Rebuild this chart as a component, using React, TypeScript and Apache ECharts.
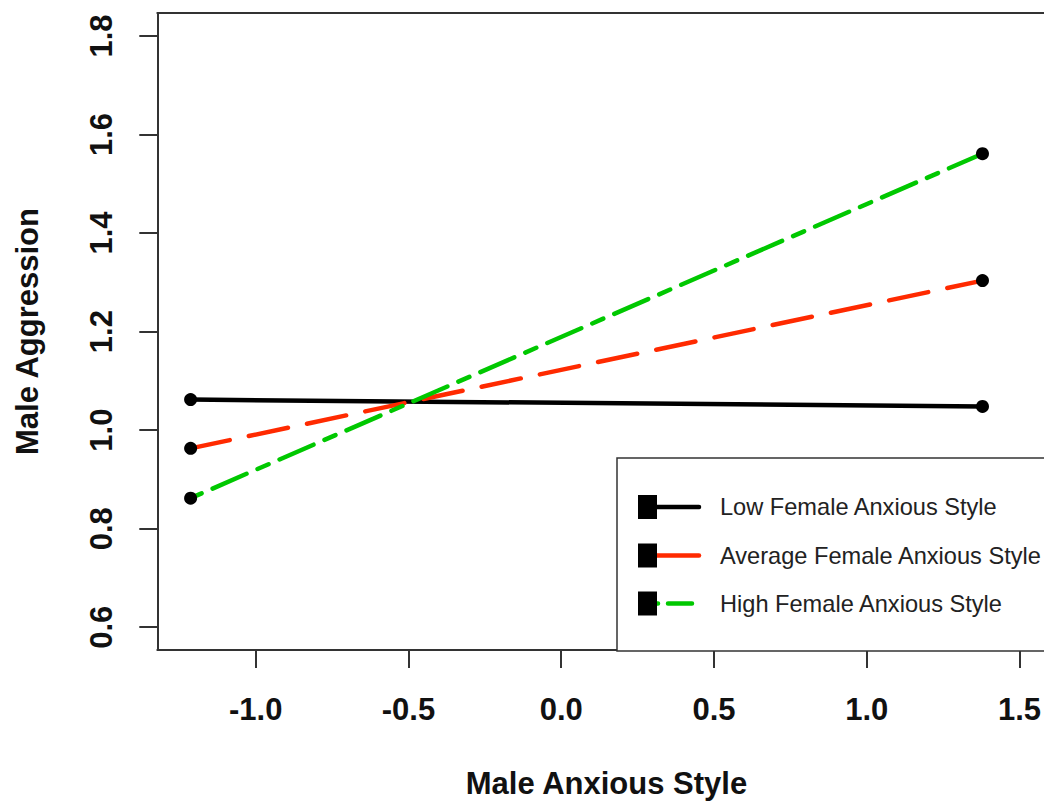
import React, { useEffect, useRef } from "react";
import * as echarts from "echarts";

const seriesNames = [
  "Low Female Anxious Style",
  "Average Female Anxious Style",
  "High Female Anxious Style",
];
const xValues = [-1.213, 1.379];
const lowValues = [1.062, 1.048];
const averageValues = [0.963, 1.3035];
const highValues = [0.862, 1.561];
const xTicks = [-1.0, -0.5, 0.0, 0.5, 1.0, 1.5];
const yTicks = [0.6, 0.8, 1.0, 1.2, 1.4, 1.6, 1.8];

const colors = ["#000000", "#ff2a00", "#00c800"];
const dashes: any[] = ["solid", [40, 19.5], [12, 12, 37, 12]];
const FONT = "'Liberation Sans', Arial, Helvetica, sans-serif";

export default function App() {
  const ref = useRef<HTMLDivElement>(null);
  useEffect(() => {
    if (!ref.current) return;
    const chart = echarts.init(ref.current, null, { renderer: "svg" });
    const allValues = [lowValues, averageValues, highValues];
    const series = allValues.map((vals, i) => ({
      name: seriesNames[i],
      type: "line",
      data: xValues.map((x, j) => [x, vals[j]]),
      symbol: "circle",
      symbolSize: 13,
      showSymbol: true,
      itemStyle: { color: "#000" },
      lineStyle: { color: colors[i], width: 4.5, type: dashes[i], cap: "round" },
      z: 3,
      silent: true,
    }));

    const legendX = 617;
    const legendY = 458;
    const rowY = [507, 555.5, 603.5];
    const legendGraphics: any[] = [
      {
        type: "rect",
        shape: { x: legendX, y: legendY, width: 600, height: 651 - legendY },
        style: { fill: "#fff", stroke: "#333", lineWidth: 1.5 },
        z: 10,
      },
    ];
    seriesNames.forEach((name, i) => {
      legendGraphics.push({
        type: "line",
        shape: { x1: 652, y1: rowY[i], x2: 699, y2: rowY[i] },
        style: {
          stroke: colors[i],
          lineWidth: 4.5,
          lineCap: "round",
          lineDash: i === 2 ? [6, 10, 24, 10] : null,
        },
        z: 11,
      });
      legendGraphics.push({
        type: "rect",
        shape: { x: 638, y: rowY[i] - 12, width: 19, height: 24 },
        style: { fill: "#000" },
        z: 12,
      });
      legendGraphics.push({
        type: "text",
        x: 720,
        y: rowY[i],
        style: {
          text: name,
          fill: "#222",
          font: `23.6px ${FONT}`,
          textVerticalAlign: "middle",
          textAlign: "left",
        },
        z: 12,
      });
    });

    const axisLineStyle = { color: "#333", width: 2 };

    chart.setOption({
      animation: false,
      backgroundColor: "#fff",
      grid: {
        left: 157.3,
        top: 13,
        width: 886.7,
        height: 638,
        show: false,
        containLabel: false,
      },
      xAxis: [
        {
          type: "value",
          min: -1.322,
          max: 1.579,
          name: "Male Anxious Style",
          nameLocation: "middle",
          nameGap: 118,
          nameTextStyle: {
            fontSize: 31,
            fontWeight: "bold",
            color: "#111",
            fontFamily: FONT,
            padding: [0, 0, 0, 12],
          },
          axisLine: { show: true, onZero: false, lineStyle: axisLineStyle },
          axisTick: {
            show: true,
            length: 18,
            inside: false,
            customValues: xTicks,
            lineStyle: axisLineStyle,
          },
          axisLabel: {
            customValues: xTicks,
            margin: 44,
            fontSize: 31,
            fontWeight: "bold",
            color: "#111",
            fontFamily: FONT,
            formatter: (v: number) => v.toFixed(1),
          },
          splitLine: { show: false },
        },
        {
          type: "value",
          position: "top",
          min: -1.322,
          max: 1.579,
          axisLine: { show: true, onZero: false, lineStyle: axisLineStyle },
          axisTick: { show: false },
          axisLabel: { show: false },
          splitLine: { show: false },
        },
      ],
      yAxis: {
        type: "value",
        min: 0.5538,
        max: 1.8466,
        name: "Male Aggression",
        nameLocation: "middle",
        nameGap: 114,
        nameRotate: 90,
        nameTextStyle: { fontSize: 31, fontWeight: "bold", color: "#111", fontFamily: FONT },
        axisLine: { show: true, onZero: false, lineStyle: axisLineStyle },
        axisTick: {
          show: true,
          length: 18,
          inside: false,
          customValues: yTicks,
          lineStyle: axisLineStyle,
        },
        axisLabel: {
          customValues: yTicks,
          rotate: 90,
          margin: 40,
          fontSize: 31,
          fontWeight: "bold",
          color: "#111",
          fontFamily: FONT,
          formatter: (v: number) => v.toFixed(1),
        },
        splitLine: { show: false },
      },
      series,
      graphic: legendGraphics,
    });
    return () => chart.dispose();
  }, []);
  return (
    <div
      ref={ref}
      style={{ position: "absolute", left: 0, top: 0, width: 1044, height: 804 }}
    />
  );
}
